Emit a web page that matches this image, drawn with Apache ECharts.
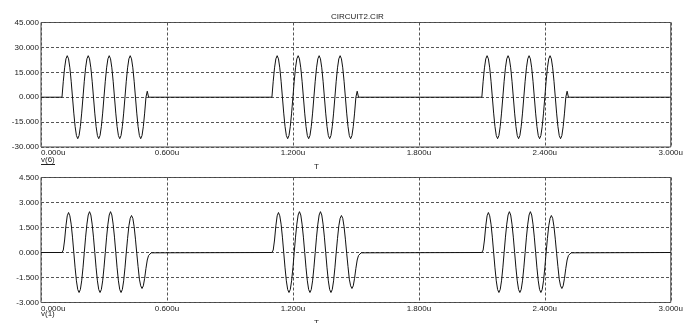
<!DOCTYPE html>
<html><head><meta charset="utf-8">
<script src="https://cdn.jsdelivr.net/npm/echarts@6/dist/echarts.min.js"></script>
<style>html,body{margin:0;padding:0;background:#fff}#c{width:686px;height:323px}</style>
</head><body><div id="c"></div>
<script>
// Burst start times (u = microseconds)
const burstStarts = [0.1, 1.1, 2.1];
// Sampling step inside each burst (u)
const sampleStep = 0.00625;
// v(6): values sampled every sampleStep from each burst start
const v6Burst = [
  0, 9.6, 17.7, 23.1, 25, 23.1, 17.7, 9.6, 0, -9.6, -17.7, -23.1, -25, -23.1, -17.7, -9.6,
  0, 9.6, 17.7, 23.1, 25, 23.1, 17.7, 9.6, 0, -9.6, -17.7, -23.1, -25, -23.1, -17.7, -9.6,
  0, 9.6, 17.7, 23.1, 25, 23.1, 17.7, 9.6, 0, -9.6, -17.7, -23.1, -25, -23.1, -17.7, -9.6,
  0, 9.6, 17.7, 23.1, 25, 23.1, 17.7, 9.6, 0, -9.6, -17.7, -23.1, -25, -23.1, -17.7, -9.6,
  0, 3.6, 0
];
// v(1): values sampled every sampleStep from each burst start
const v1Burst = [
  0, 0.15, 0.75, 1.6, 2.2, 2.4, 2.2, 1.7, 0.92, 0, -0.92, -1.7, -2.22, -2.4, -2.22, -1.7, -0.92,
  0, 0.92, 1.7, 2.25, 2.45, 2.25, 1.7, 0.92, 0, -0.92, -1.7, -2.22, -2.4, -2.22, -1.7, -0.92,
  0, 0.92, 1.7, 2.25, 2.45, 2.25, 1.7, 0.92, 0, -0.92, -1.7, -2.22, -2.4, -2.22, -1.7, -0.92,
  0, 0.85, 1.6, 2.05, 2.22, 2.05, 1.55, 0.8, -0.05, -0.85, -1.6, -2.0, -2.16, -2.0, -1.55, -0.95,
  -0.45, -0.18, -0.07, -0.02, 0
];
// Axis ranges
const xRange = [0, 3, 0.6];
const v6Range = [-30, 45, 15];
const v1Range = [-3, 4.5, 1.5];
const titleText = 'CIRCUIT2.CIR';
const xName = 'T';
const v6Name = 'v(6)';
const v1Name = 'v(1)';

function build(burst) {
  const d = [[xRange[0], 0]];
  burstStarts.forEach(s => burst.forEach((v, k) => d.push([+(s + k * sampleStep).toFixed(5), v])));
  d.push([xRange[1], 0]);
  return d;
}

const FONT = 'Liberation Sans, Arial, sans-serif';
const TXT = '#222';
const gridLine = { show: true, lineStyle: { color: '#555', width: 1, type: [3, 2] } };

function xAxis(gi) {
  return {
    gridIndex: gi, type: 'value', min: xRange[0], max: xRange[1], interval: xRange[2],
    axisLine: { show: false }, axisTick: { show: false },
    axisLabel: { formatter: v => v.toFixed(3) + 'u', fontSize: 8, fontFamily: FONT, color: TXT, margin: 2, alignMinLabel: 'left' },
    splitLine: gridLine
  };
}
function yAxis(gi, r) {
  return {
    gridIndex: gi, type: 'value', min: r[0], max: r[1], interval: r[2],
    axisLine: { show: false }, axisTick: { show: false },
    axisLabel: { formatter: v => v.toFixed(3), fontSize: 8, fontFamily: FONT, color: TXT, margin: 2 },
    splitLine: gridLine
  };
}

const chart = echarts.init(document.getElementById('c'), null, { renderer: 'canvas' });
chart.setOption({
  animation: false,
  backgroundColor: '#fff',
  grid: [
    { left: 41, right: 11, top: 22.5, height: 124.5, show: true, borderColor: '#444', borderWidth: 1 },
    { left: 41, right: 11, top: 177.5, height: 125, show: true, borderColor: '#444', borderWidth: 1 }
  ],
  xAxis: [xAxis(0), xAxis(1)],
  yAxis: [yAxis(0, v6Range), yAxis(1, v1Range)],
  series: [
    { type: 'line', xAxisIndex: 0, yAxisIndex: 0, data: build(v6Burst), showSymbol: false, lineStyle: { color: '#111', width: 1 } },
    { type: 'line', xAxisIndex: 1, yAxisIndex: 1, data: build(v1Burst), showSymbol: false, lineStyle: { color: '#111', width: 1 } }
  ],
  graphic: [
    { type: 'text', left: 357.5 - 26.5, top: 13, style: { text: titleText, font: '8px ' + FONT, fill: TXT } },
    { type: 'text', left: 314, top: 163, style: { text: xName, font: '8px ' + FONT, fill: TXT } },
    { type: 'text', left: 314, top: 319, style: { text: xName, font: '8px ' + FONT, fill: TXT } },
    { type: 'text', left: 41, top: 156, style: { text: v6Name, font: '8px ' + FONT, fill: TXT } },
    { type: 'line', shape: { x1: 41, y1: 164.5, x2: 55, y2: 164.5 }, style: { stroke: TXT, lineWidth: 1 } },
    { type: 'text', left: 41, top: 310, style: { text: v1Name, font: '8px ' + FONT, fill: TXT } }
  ]
});
</script>
</body></html>
